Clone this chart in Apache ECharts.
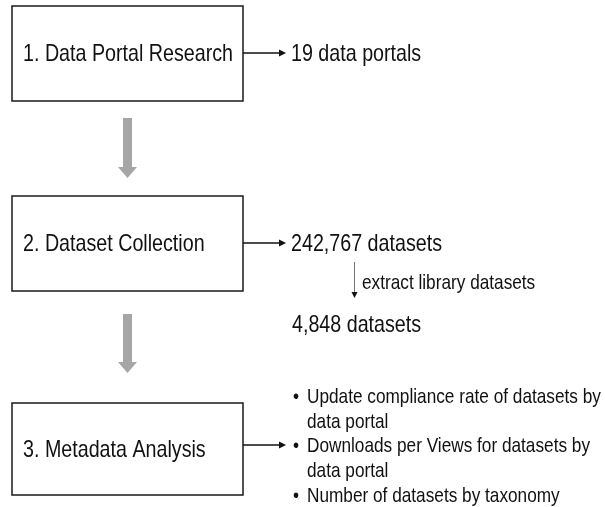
<!DOCTYPE html>
<html>
<head>
<meta charset="utf-8">
<script src="https://cdn.jsdelivr.net/npm/echarts@6/dist/echarts.min.js"></script>
<style>
  html, body { margin: 0; padding: 0; background: #fff; }
  #flow { width: 605px; height: 507px; }
</style>
</head>
<body>
<div id="flow"></div>
<script>
// 流程步骤
var steps = ['1. Data Portal Research', '2. Dataset Collection', '3. Metadata Analysis'];
// 每一步右侧的结果
var results = ['19 data portals', '242,767 datasets'];
var extractLabel = 'extract library datasets';
var extracted = '4,848 datasets';
// 第三步的分析项 (每项可能折成两行)
var analyses = [
  ['Update compliance rate of datasets by', 'data portal'],
  ['Downloads per Views for datasets by', 'data portal'],
  ['Number of datasets by taxonomy']
];

// 布局
var boxLeft = 12, boxRight = 243;
var boxTops = [6, 196, 403];
var boxBottoms = [101, 291, 495];
var arrowYs = [53, 243, 445];
var grayArrows = [[118, 178], [314, 373]];
var font = 'Liberation Sans, Arial, sans-serif';
var squeeze = 0.82;   // 文字横向压缩

var els = [];

function text(str, x, y, size) {
  els.push({
    type: 'text', x: x, y: y, scaleX: squeeze,
    style: { text: str, fill: '#111', font: size + 'px ' + font, verticalAlign: 'middle' }
  });
}

function arrowRight(x1, x2, y) {
  els.push({ type: 'line', shape: { x1: x1, y1: y, x2: x2 - 5, y2: y }, style: { stroke: '#111', lineWidth: 1.3 } });
  els.push({ type: 'polygon', shape: { points: [[x2 - 7, y - 3.5], [x2, y], [x2 - 7, y + 3.5]] }, style: { fill: '#111' } });
}

steps.forEach(function (s, i) {
  var t = boxTops[i], b = boxBottoms[i];
  els.push({
    type: 'rect',
    shape: { x: boxLeft, y: t, width: boxRight - boxLeft, height: b - t },
    style: { fill: '#fff', stroke: '#1a1a1a', lineWidth: 1.5 }
  });
  text(s, 23, (t + b) / 2 + 1, 24);
  arrowRight(boxRight, 286, arrowYs[i]);
});

results.forEach(function (r, i) {
  text(r, 291, arrowYs[i] + 1, 24);
});

// 灰色粗箭头
grayArrows.forEach(function (a) {
  els.push({
    type: 'polygon',
    shape: {
      points: [[123, a[0]], [132, a[0]], [132, a[1] - 11], [137, a[1] - 11],
               [127.5, a[1]], [118, a[1] - 11], [123, a[1] - 11]]
    },
    style: { fill: '#a6a6a6' }
  });
});

// 提取箭头
els.push({ type: 'line', shape: { x1: 354.5, y1: 262, x2: 354.5, y2: 294 }, style: { stroke: '#777', lineWidth: 1 } });
els.push({ type: 'polygon', shape: { points: [[351.5, 292], [357.5, 292], [354.5, 298]] }, style: { fill: '#111' } });
text(extractLabel, 362, 283, 21);
text(extracted, 292, 325, 24);

// 分析项目列表
var lineY = 397, lineGap = 24.75;
analyses.forEach(function (item) {
  item.forEach(function (ln, k) {
    if (k === 0) text('\u2022', 293, lineY, 21);
    text(ln, 307, lineY, 21);
    lineY += lineGap;
  });
});

var myChart = echarts.init(document.getElementById('flow'));
myChart.setOption({
  backgroundColor: '#fff',
  animation: false,
  graphic: { elements: els }
});
</script>
</body>
</html>
